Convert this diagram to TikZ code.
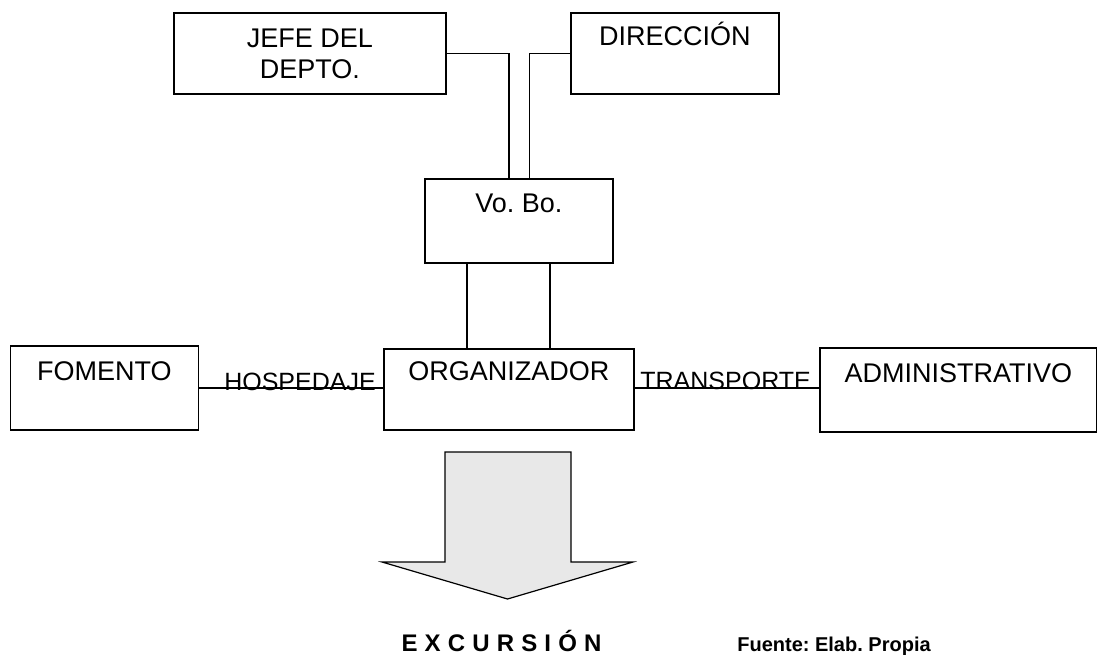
\documentclass[tikz,border=0pt]{standalone}
\usepackage{fontspec}
\setmainfont{Liberation Sans}
\definecolor{arrowgray}{RGB}{232,232,232}
\frenchspacing
\begin{document}
\begin{tikzpicture}[x=1pt,y=-1pt,
  box/.style={draw, line width=1.6pt, inner sep=0pt, anchor=north west},
  boxtext/.style={font=\fontsize{27}{31}\selectfont, inner sep=0pt, anchor=base, align=center},
  lbl/.style={font=\fontsize{25}{30}\selectfont, inner sep=0pt, anchor=base},
  wire/.style={line width=1.4pt},
  bigarrow/.style={draw, line width=1.2pt, fill=arrowgray, line join=miter}]
\useasboundingbox (0,0) rectangle (1097,654);
% boxes
\node[box, minimum width=272pt, minimum height=81pt] (jefe) at (173,12) {};
\node[box, minimum width=208pt, minimum height=81pt] (dir) at (570,12) {};
\node[box, minimum width=188pt, minimum height=84pt] (vobo) at (424,178) {};
\node[box, minimum width=188pt, minimum height=84pt] (fom) at (9.6,345) {};
\node[box, minimum width=250pt, minimum height=81pt] (org) at (383,348) {};
\node[box, minimum width=277pt, minimum height=84pt] (adm) at (819,347) {};
% texts
\node[boxtext] (jefet) at ([yshift=-66pt]jefe.north) {JEFE DEL\\DEPTO.};
\node[boxtext] (dirt) at ([yshift=-33pt]dir.north) {DIRECCIÓN};
\node[boxtext] (vobot) at ([yshift=-34pt]vobo.north) {Vo. Bo.};
\node[boxtext] (fomt) at ([yshift=-35pt]fom.north) {FOMENTO};
\node[boxtext] (orgt) at ([yshift=-32pt]org.north) {ORGANIZADOR};
\node[boxtext] (admt) at ([yshift=-35pt]adm.north) {ADMINISTRATIVO};
% connectors
\draw[wire] (jefe.east) -| ([xshift=-10pt]vobo.north);
\draw[wire] (dir.west) -| ([xshift=10.6pt]vobo.north);
\draw[wire] ([xshift=-52pt]vobo.south) -- ([xshift=-52pt]vobo.south |- org.north);
\draw[wire] ([xshift=31pt]vobo.south) -- ([xshift=31pt]vobo.south |- org.north);
\draw[wire] (fom.east) -- (fom.east -| org.west);
\draw[wire] (org.east |- fom.east) -- (adm.west |- fom.east);
% labels
\node[lbl] (hosp) at (300,390) {HOSPEDAJE};
\node[lbl] (trans) at (725.6,389) {TRANSPORTE};
% big arrow
\draw[bigarrow] (445,452) -- (571,452) -- (571,562) -- (633,562) -- (507.5,599) -- (382,562) -- (445,562) -- cycle;
% bottom texts
\node[inner sep=0pt, anchor=base, font=\fontsize{24}{28}\bfseries\selectfont\addfontfeatures{LetterSpace=2}] (exc) at (501.5,651) {E X C U R S I Ó N};
\node[inner sep=0pt, anchor=base, font=\fontsize{20}{24}\bfseries\selectfont] (fuente) at (834,651) {Fuente: Elab. Propia};
\end{tikzpicture}
\end{document}
